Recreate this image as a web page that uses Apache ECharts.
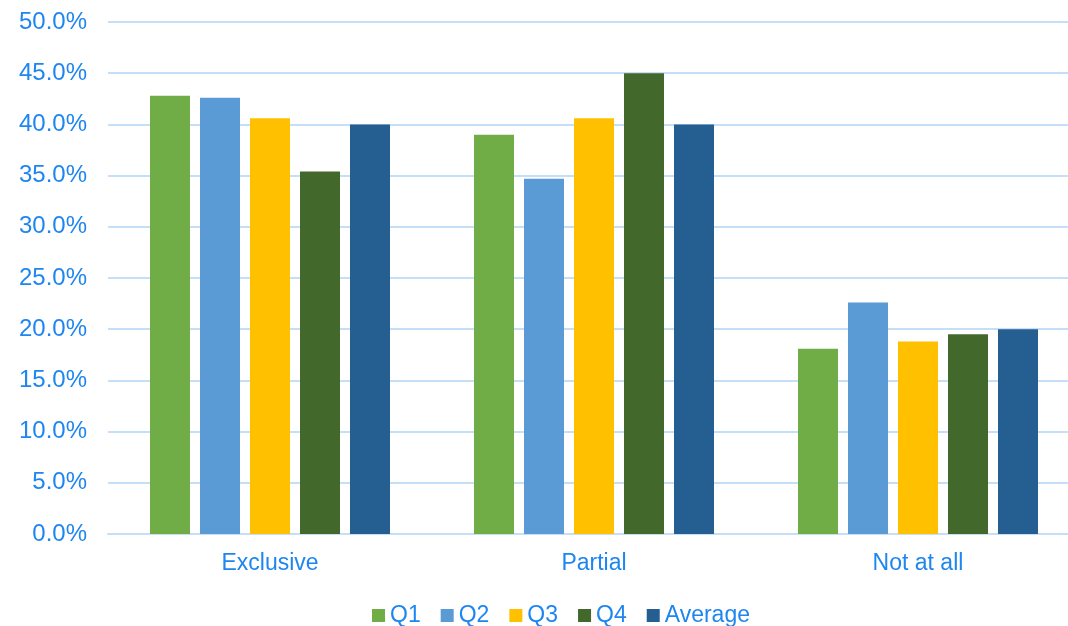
<!DOCTYPE html>
<html>
<head>
<meta charset="utf-8">
<title>Chart</title>
<script src="https://cdn.jsdelivr.net/npm/echarts@6/dist/echarts.min.js"></script>
<style>
  html, body { margin: 0; padding: 0; background: #fff; }
  #chart { width: 1068px; height: 626px; }
</style>
</head>
<body>
<div id="chart"></div>
<script>
// data
const categories = ['Exclusive', 'Partial', 'Not at all']
const seriesNames = ['Q1', 'Q2', 'Q3', 'Q4', 'Average']
const q1 = [42.8, 39.0, 18.1]
const q2 = [42.6, 34.7, 22.6]
const q3 = [40.6, 40.6, 18.8]
const q4 = [35.4, 45.0, 19.5]
const avg = [40.0, 40.0, 20.0]
const yTicks = [0, 5, 10, 15, 20, 25, 30, 35, 40, 45, 50]

const colors = ['#70AD47', '#5B9BD5', '#FFC000', '#43682B', '#255E91']
const textColor = '#1E86F0'
const font = 'Liberation Sans, Arial, sans-serif'

let chartDom = document.getElementById('chart')
let myChart = echarts.init(chartDom)

const allData = [q1, q2, q3, q4, avg]
let series = seriesNames.map((name, i) => ({
  name: name,
  type: 'bar',
  data: allData[i],
  barWidth: 40,
  barGap: '25%',
  itemStyle: { color: colors[i] }
}))

let option = {
  animation: false,
  color: colors,
  textStyle: { fontFamily: font },
  grid: {
    left: 108,
    right: -12,
    top: 22,
    bottom: 92,
    outerBoundsMode: 'none'
  },
  legend: {
    bottom: -6,
    left: 367,
    data: seriesNames,
    icon: 'rect',
    itemWidth: 13,
    itemHeight: 13,
    itemGap: 20,
    textStyle: { color: textColor, fontSize: 23, fontFamily: font }
  },
  xAxis: {
    type: 'category',
    data: categories,
    axisLine: { show: true, lineStyle: { color: '#C5DFF8', width: 2 } },
    axisTick: { show: false },
    axisLabel: { color: textColor, fontSize: 23, fontFamily: font, margin: 18 }
  },
  yAxis: {
    type: 'value',
    min: yTicks[0],
    max: yTicks[yTicks.length - 1],
    interval: 5,
    axisLine: { show: false },
    axisTick: { show: false },
    splitLine: { lineStyle: { color: '#C5DFF8', width: 2 } },
    axisLabel: {
      color: textColor,
      fontSize: 24,
      fontFamily: font,
      margin: 21,
      formatter: function (v) { return v.toFixed(1) + '%' }
    }
  },
  series: series
}

option && myChart.setOption(option)
</script>
</body>
</html>
